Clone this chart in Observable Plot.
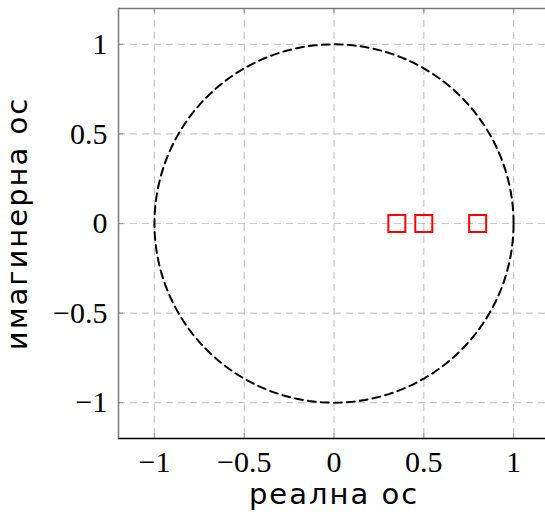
<!DOCTYPE html>
<html><head><meta charset="utf-8">
<script src="https://cdn.jsdelivr.net/npm/d3@7"></script>
<script src="https://cdn.jsdelivr.net/npm/@observablehq/plot@0.6"></script>
<style>body{margin:0;overflow:hidden;background:#fff} svg{max-width:none!important}</style>
</head><body><div id="chart"></div>
<script>
const xTicks = [-1, -0.5, 0, 0.5, 1];
const yTicks = [-1, -0.5, 0, 0.5, 1];
const poleRe = [0.35, 0.5, 0.8];
const poleIm = [0, 0, 0];
const xLabel = "реална ос";
const yLabel = "имагинерна ос";

const poles = poleRe.map((re, i) => ({re, im: poleIm[i]}));
const circle = d3.range(0, 361, 2).map(a => ({x: Math.cos(a * Math.PI / 180), y: Math.sin(a * Math.PI / 180)}));
const tk = 0.028;
const serif = "Liberation Serif, DejaVu Serif, serif";
const sans = "DejaVu Sans";
const fmt = d => (d < 0 ? "\u2212" : "") + String(Math.abs(d));

const chart = Plot.plot({
  width: 549, height: 515,
  marginLeft: 118, marginRight: 0, marginTop: 8, marginBottom: 77,
  x: {domain: [-1.2, 1.2]},
  y: {domain: [-1.2, 1.2]},
  style: {background: "#fff", maxWidth: "none"},
  marks: [
    Plot.gridX(xTicks, {stroke: "#c8c8c8", strokeOpacity: 1, strokeDasharray: "7,5", strokeWidth: 1.2}),
    Plot.gridY(yTicks, {stroke: "#c8c8c8", strokeOpacity: 1, strokeDasharray: "7,5", strokeWidth: 1.2}),
    Plot.ruleX(xTicks, {y1: -1.2, y2: -1.2 + tk, stroke: "#999", strokeWidth: 1.2}),
    Plot.ruleX(xTicks, {y1: 1.2, y2: 1.2 - tk, stroke: "#999", strokeWidth: 1.2}),
    Plot.ruleY(yTicks, {x1: -1.2, x2: -1.2 + tk, stroke: "#999", strokeWidth: 1.2}),
    Plot.ruleX([-1.2], {stroke: "#777", strokeWidth: 1.5}),
    Plot.ruleY([1.2], {stroke: "#777", strokeWidth: 1.5}),
    Plot.ruleY([-1.2], {stroke: "#000", strokeWidth: 1.5}),
    Plot.line(circle, {x: "x", y: "y", stroke: "#000", strokeWidth: 2, strokeDasharray: "8,5"}),
    Plot.dot(poles, {x: "re", y: "im", symbol: "square", r: 9.6, stroke: "#f00", strokeWidth: 2, fill: "none"}),
    Plot.axisX(xTicks, {tickSize: 0, tickPadding: 12, fontSize: 30, fontFamily: serif, label: null, color: "#000", tickFormat: fmt}),
    Plot.axisY(yTicks, {tickSize: 0, tickPadding: 11, fontSize: 30, fontFamily: serif, label: null, color: "#000", tickFormat: fmt}),
    Plot.axisX([], {tickSize: 0, label: xLabel, labelAnchor: "center", labelArrow: "none", labelOffset: 65, fontSize: 29, fontFamily: sans, color: "#000"}),
    Plot.axisY([], {tickSize: 0, label: yLabel, labelAnchor: "center", labelArrow: "none", labelOffset: 112, fontSize: 29, fontFamily: sans, color: "#000"})
  ]
});
d3.select(chart).selectAll('g[aria-label$="axis label"] text').style("letter-spacing", "2px");
document.getElementById("chart").append(chart);
</script></body></html>
